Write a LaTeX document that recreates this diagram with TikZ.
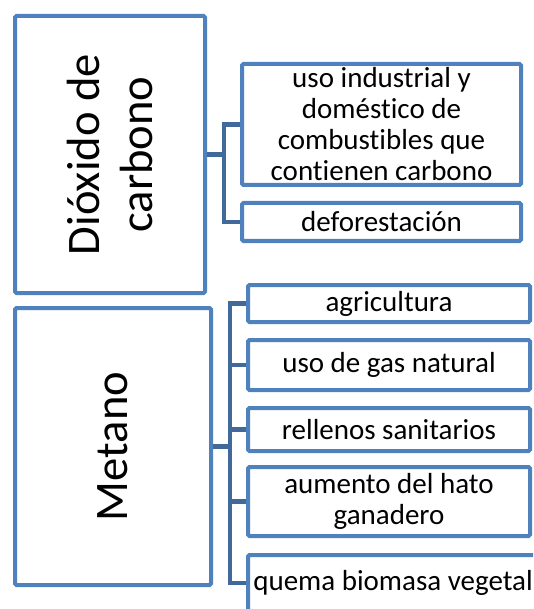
\documentclass[tikz,border=0pt]{standalone}
\usepackage{fontspec}
\setmainfont{Carlito}[Ligatures={NoCommon}]
\definecolor{boxblue}{HTML}{4F81BD}
\definecolor{connblue}{HTML}{41699A}
\begin{document}
\begin{tikzpicture}[x=1pt,y=1pt,
  bigbox/.style={draw=boxblue, line width=4pt, rounded corners=1.5pt, fill=white,
    inner sep=0pt, align=center, font=\fontsize{46.6}{53}\selectfont, rotate=90},
  smallbox/.style={draw=boxblue, line width=4pt, rounded corners=1.5pt, fill=white,
    inner sep=0pt, align=center, font=\fontsize{29}{31}\selectfont},
  conn/.style={draw=connblue, line width=4.5pt, line join=miter}]
\useasboundingbox (0,0) rectangle (533,-609);
\clip (0,0) rectangle (533,-609);
% root boxes (rotated: width along page vertical)
\node[bigbox, minimum width=277pt, minimum height=190pt] (co2) at (110,-154.5) {Dióxido de\\carbono};
\node[bigbox, minimum width=277pt, minimum height=196pt] (ch4) at (113,-446.5) {Metano};
% CO2 children
\node[smallbox, minimum width=279pt, minimum height=121pt] (c1) at (381.5,-124.5) {uso industrial y\\doméstico de\\combustibles que\\contienen carbono};
\node[smallbox, minimum width=279pt, minimum height=38pt] (c2) at (381.5,-222) {deforestación};
% Methane children
\node[smallbox, minimum width=282pt, minimum height=37pt] (m1) at (389,-303.5) {agricultura};
\node[smallbox, minimum width=282pt, minimum height=50pt] (m2) at (389,-365) {uso de gas natural};
\node[smallbox, minimum width=282pt, minimum height=43pt] (m3) at (389,-429.5) {rellenos sanitarios};
\node[smallbox, minimum width=282pt, minimum height=69pt] (m4) at (389,-501.5) {aumento del hato\\ganadero};
\node[smallbox, minimum width=290pt, minimum height=56pt] (m5) at (393,-583) {quema biomasa vegetal};
% trunks
\coordinate (t1) at (224,0);
\coordinate (t2) at (230,0);
% CO2 connectors
\draw[conn] (co2.south) -- (co2.south -| t1);
\draw[conn] (c1.west) -- (c1.west -| t1) -- (c2.west -| t1) -- (c2.west);
% Methane connectors
\draw[conn] (ch4.south) -- (ch4.south -| t2);
\draw[conn] (m1.west) -- (m1.west -| t2) -- (m5.west -| t2) -- (m5.west);
\draw[conn] (m2.west -| t2) -- (m2.west);
\draw[conn] (m3.west -| t2) -- (m3.west);
\draw[conn] (m4.west -| t2) -- (m4.west);
\end{tikzpicture}
\end{document}
